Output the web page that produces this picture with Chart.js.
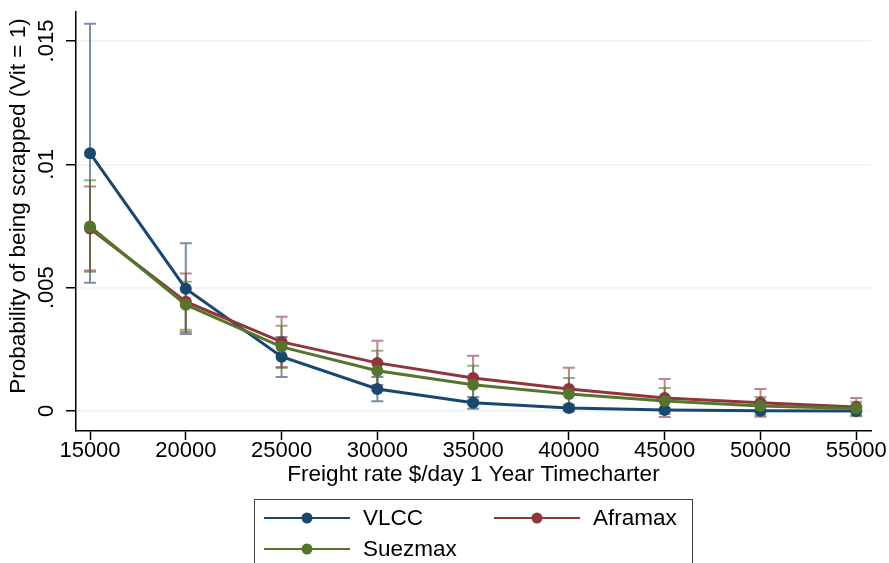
<!DOCTYPE html>
<html>
<head>
<meta charset="utf-8">
<script src="https://cdn.jsdelivr.net/npm/chart.js@4.4.1/dist/chart.umd.min.js"></script>
<style>
  html, body { margin: 0; padding: 0; background: #fff; }
  #wrap { width: 889px; height: 563px; position: relative; }
</style>
</head>
<body>
<div id="wrap"><canvas id="scrapChart"></canvas></div>
<script>
// freight rate points (x) and tick labels
const rates = [15000, 20000, 25000, 30000, 35000, 40000, 45000, 50000, 55000];
const xTicks = [15000, 20000, 25000, 30000, 35000, 40000, 45000, 50000, 55000];
const yTicks = [0, 0.005, 0.01, 0.015];
const yTickLabels = ['0', '.005', '.01', '.015'];

const seriesNames = ['VLCC', 'Aframax', 'Suezmax'];

// predicted probability of being scrapped
const vlcc     = [0.01045, 0.00496, 0.00220, 0.00089, 0.00033, 0.00012, 0.00004, 0.00001, 0.00000];
const aframax  = [0.00740, 0.00443, 0.00280, 0.00195, 0.00134, 0.00089, 0.00053, 0.00033, 0.00016];
const suezmax  = [0.00748, 0.00431, 0.00260, 0.00163, 0.00106, 0.00069, 0.00041, 0.00020, 0.00010];

// confidence intervals (upper / lower)
const vlccHi    = [0.01570, 0.00680, 0.00300, 0.00138, 0.00057, 0.00025, 0.00010, 0.00004, 0.00001];
const vlccLo    = [0.00520, 0.00312, 0.00138, 0.00040, 0.00009, -0.00001, -0.00002, -0.00002, -0.00001];
const aframaxHi = [0.00910, 0.00557, 0.00382, 0.00285, 0.00224, 0.00175, 0.00130, 0.00089, 0.00053];
const aframaxLo = [0.00570, 0.00320, 0.00178, 0.00105, 0.00044, 0.00003, -0.00024, -0.00023, -0.00021];
const suezmaxHi = [0.00935, 0.00524, 0.00346, 0.00244, 0.00183, 0.00134, 0.00093, 0.00057, 0.00037];
const suezmaxLo = [0.00565, 0.00329, 0.00174, 0.00082, 0.00029, 0.00004, -0.00011, -0.00017, -0.00017];

const colors = ['#1a476f', '#90353b', '#55752f'];
const barColors = ['rgba(26,71,111,0.6)', 'rgba(144,53,59,0.6)', 'rgba(85,117,47,0.6)'];
const FONT = '"Liberation Sans", Arial, sans-serif';

const values = [vlcc, aframax, suezmax];
const highs = [vlccHi, aframaxHi, suezmaxHi];
const lows = [vlccLo, aframaxLo, suezmaxLo];

// rcap style error bars, drawn under the lines
const errorBars = {
  id: 'errorBars',
  beforeDatasetsDraw(chart) {
    const { ctx, scales: { x, y } } = chart;
    ctx.save();
    ctx.lineWidth = 2;
    values.forEach((_, s) => {
      ctx.strokeStyle = barColors[s];
      rates.forEach((r, i) => {
        const px = x.getPixelForValue(r);
        const top = y.getPixelForValue(highs[s][i]);
        const bot = y.getPixelForValue(lows[s][i]);
        ctx.beginPath();
        ctx.moveTo(px, top); ctx.lineTo(px, bot);
        ctx.moveTo(px - 6, top); ctx.lineTo(px + 6, top);
        ctx.moveTo(px - 6, bot); ctx.lineTo(px + 6, bot);
        ctx.stroke();
      });
    });
    ctx.restore();
  }
};

// vertical y tick labels, axis title and the boxed legend
const decorations = {
  id: 'decorations',
  afterDraw(chart) {
    const { ctx, scales: { y } } = chart;
    ctx.save();
    ctx.fillStyle = '#000';
    ctx.font = '22px ' + FONT;
    ctx.textAlign = 'center';
    ctx.textBaseline = 'middle';
    yTicks.forEach((v, i) => {
      ctx.save();
      ctx.translate(47, y.getPixelForValue(v));
      ctx.rotate(-Math.PI / 2);
      ctx.fillText(yTickLabels[i], 0, 0);
      ctx.restore();
    });

    ctx.save();
    ctx.font = '22.5px ' + FONT;
    ctx.translate(19, 206);
    ctx.rotate(-Math.PI / 2);
    ctx.fillText('Probability of being scrapped (Vit = 1)', 0, 0);
    ctx.restore();

    // legend
    ctx.strokeStyle = '#444';
    ctx.lineWidth = 1;
    ctx.strokeRect(254.5, 499.5, 438, 120);
    const slots = [[264, 518], [494, 518], [264, 549]];
    ctx.font = '22.5px ' + FONT;
    ctx.textAlign = 'left';
    seriesNames.forEach((name, s) => {
      const [lx, ly] = slots[s];
      ctx.strokeStyle = colors[s];
      ctx.lineWidth = 2;
      ctx.beginPath();
      ctx.moveTo(lx, ly); ctx.lineTo(lx + 86, ly);
      ctx.stroke();
      ctx.fillStyle = colors[s];
      ctx.beginPath();
      ctx.arc(lx + 43, ly, 5.5, 0, Math.PI * 2);
      ctx.fill();
      ctx.fillStyle = '#000';
      ctx.fillText(name, lx + 99, ly + 1);
    });
    ctx.restore();
  }
};

const datasets = seriesNames.map((name, s) => ({
  label: name,
  data: rates.map((r, i) => ({ x: r, y: values[s][i] })),
  borderColor: colors[s],
  backgroundColor: colors[s],
  borderWidth: 3,
  pointRadius: 6,
  pointBorderWidth: 0,
  pointBackgroundColor: colors[s],
  tension: 0,
  order: 3 - s
}));

new Chart(document.getElementById('scrapChart'), {
  type: 'line',
  data: { datasets },
  options: {
    responsive: true,
    maintainAspectRatio: false,
    animation: false,
    layout: { padding: { left: 0, top: 12, right: 18, bottom: 0 } },
    plugins: { legend: { display: false }, tooltip: { enabled: false } },
    scales: {
      x: {
        type: 'linear',
        min: 14269,
        max: 55770,
        afterBuildTicks: s => { s.ticks = xTicks.map(v => ({ value: v })); },
        afterFit: s => { s.height = 132; },
        border: { color: '#000', width: 1.5 },
        grid: { drawOnChartArea: false, drawTicks: true, tickLength: 9, tickColor: '#000', tickWidth: 1.5 },
        ticks: {
          color: '#000', padding: 0, maxRotation: 0,
          font: { family: FONT, size: 22, lineHeight: 1 },
          callback: v => String(v)
        },
        title: {
          display: true,
          text: 'Freight rate $/day 1 Year Timecharter',
          color: '#000',
          font: { family: FONT, size: 22.5, lineHeight: 1.2 },
          padding: { top: 0, bottom: 74.5 }
        }
      },
      y: {
        type: 'linear',
        min: -0.000811,
        max: 0.016176,
        afterBuildTicks: s => { s.ticks = yTicks.map(v => ({ value: v })); },
        afterFit: s => { s.width = 76; },
        border: { color: '#000', width: 1.5 },
        grid: { color: '#eaf2f3', lineWidth: 1.5, drawTicks: true, tickLength: 10, tickColor: '#000', tickWidth: 1.5 },
        ticks: { display: false }
      }
    }
  },
  plugins: [errorBars, decorations]
});
</script>
</body>
</html>
